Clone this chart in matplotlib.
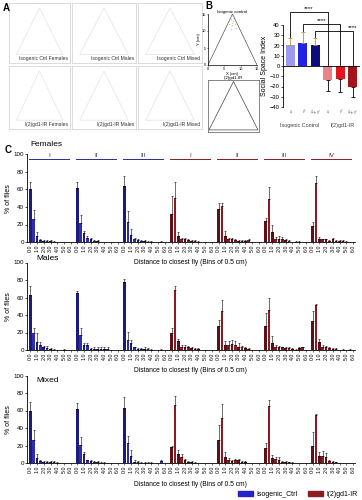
import matplotlib

matplotlib.use("Agg")
import matplotlib.pyplot as plt
import numpy as np
from matplotlib.patches import Patch, Polygon

plt.rcParams["font.family"] = ["Liberation Sans", "DejaVu Sans"]

W, H = 362, 500

# ---- panel B: social space index ----
ssi_labels = ["♀", "♂", "♀+♂", "♀", "♂", "♀+♂"]
ssi_groups = ["Isogenic Control", "l(2)gd1-IR"]
ssi_mean = [20, 22, 20, -14, -13, -20]
ssi_err = [7, 11, 7, 10, 12, 10]
ssi_pairs = [(0, 3), (1, 4), (2, 5)]
ssi_stars = ["****", "****", "****"]

# faint fly positions near the apex of the control arena
tri_x = [7.2, 7.8, 8.2, 6.9, 7.5, 8.5, 6.5, 7.0, 8.0]
tri_y = [12.5, 13.0, 12.0, 13.4, 11.8, 11.0, 12.2, 10.5, 13.8]

# ---- panel C: distance to closest fly ----
bin_labels = ["0.0", "0.5", "1.0", "1.5", "2.0", "2.5", "3.0",
              "3.5", "4.0", "4.5", "5.0", "5.5", "6.0"]
ctrl_headers = ["I", "II", "III"]
ir_headers = ["I", "II", "III", "IV"]

females_ctrl_mean = [
    [60, 26, 7, 2, 1, 1, 1, 0.5, 0, 0, 0, 0, 0],
    [62, 22, 10, 5, 3, 1, 1, 0, 0, 0, 0, 0, 0],
    [64, 23, 8, 3, 2, 1, 1, 0.5, 0.5, 0, 0, 0.5, 0],
]
females_ctrl_err = [
    [8, 11, 4, 1, 1, 1, 1, 0.5, 0, 0, 0, 0, 0],
    [7, 9, 3, 2, 1.5, 1, 1, 0, 0, 0, 0, 0, 0],
    [11, 12, 7, 2, 1, 1, 1, 0.5, 0.5, 0, 0, 1, 0],
]
females_ir_mean = [
    [32, 50, 7, 3, 3, 2, 1, 1, 0.5, 0, 0, 0, 0],
    [38, 41, 7, 3, 3, 2, 1, 1, 1, 2, 0, 0, 0],
    [24, 49, 12, 4, 4, 3, 2, 1, 0, 0.5, 0.5, 0, 0],
    [18, 67, 4, 3, 3, 1, 3, 1, 1, 1, 0.5, 0, 0],
]
females_ir_err = [
    [20, 18, 4, 2, 2, 1, 1, 1, 0.5, 0, 0, 0, 0],
    [6, 4, 6, 2, 2, 2, 1, 1, 1, 1, 0, 0, 0],
    [3, 14, 8, 2, 3, 3, 1, 1, 0, 0.5, 0.5, 0, 0],
    [5, 8, 2, 1, 1, 1, 2, 1, 1, 1, 0.5, 0, 0],
]

males_ctrl_mean = [
    [63, 19, 9.5, 6, 3, 2, 1, 0.5, 0, 0, 0.5, 0, 0],
    [65, 17, 6, 6, 1.5, 1.5, 1.5, 1.5, 1.5, 1.5, 0, 0, 0],
    [78, 12, 8, 3, 1, 1, 1.5, 1, 0.5, 0, 0, 0.5, 0],
]
males_ctrl_err = [
    [10, 6, 10, 3.5, 1.5, 3, 1, 0.5, 0, 0, 0.5, 0, 0],
    [3, 8, 2, 2, 1, 1.5, 1.5, 1.5, 1.5, 1.5, 0, 0, 0],
    [3, 9, 3, 1, 1, 1, 1.5, 1, 0.5, 0, 0, 1, 0],
]
males_ir_mean = [
    [19, 69, 10, 4, 4, 3, 2, 1, 1, 0, 0, 0, 0],
    [27, 45, 6, 6, 7, 6, 4, 3, 2, 1, 0, 0, 0],
    [28, 46, 8, 4, 3, 3, 2, 2, 1, 0.5, 2, 3, 0],
    [33, 51, 9.5, 4, 3, 2, 1, 1, 0, 0.5, 0, 0.5, 0],
]
males_ir_err = [
    [6, 4, 3, 2, 2, 2, 1, 1, 1, 0, 0, 0, 0],
    [7, 12, 4, 4, 4, 4, 4, 2, 1, 1, 0, 0, 0],
    [14, 13, 8, 2, 2, 1, 1, 1, 1, 0.5, 1, 1, 0],
    [12, 2, 3.5, 2, 2, 1, 1, 1, 0, 1, 0, 1, 0],
]

mixed_ctrl_mean = [
    [60, 26, 6, 2.5, 1.5, 1, 1.5, 1, 0.5, 0, 0, 0, 0],
    [62, 21, 10, 3, 2, 1, 1.5, 0.5, 0.5, 0, 0, 0, 0],
    [63, 23, 8, 1, 1, 0.5, 0.5, 0.5, 0.5, 0, 0, 2, 0],
]
mixed_ctrl_err = [
    [10, 12, 4, 1, 1, 1, 1, 1, 0.5, 0, 0, 0, 0],
    [7, 9, 3, 1, 2, 1, 1, 0.5, 0.5, 0, 0, 0, 0],
    [12, 8, 7, 2, 1, 0.5, 0.5, 0.5, 0.5, 0, 0, 1, 0],
]
mixed_ir_mean = [
    [18, 66, 10, 7, 3, 1, 1, 0.5, 0, 0, 0, 0, 0],
    [26, 52, 7, 4, 2, 3, 3, 1, 1, 0, 0, 0, 0],
    [17, 65, 6, 5, 4, 1, 1, 1, 0.5, 0, 0, 0, 0],
    [19, 55, 8, 8, 7, 2, 1, 1, 0, 0, 0, 0, 0],
]
mixed_ir_err = [
    [2, 11, 5, 3, 2, 1, 1, 0.5, 0, 0, 0, 0, 0],
    [18, 15, 6, 2, 1, 2, 2, 1, 1, 0, 0, 0, 0],
    [6, 7, 3, 2, 3, 1, 1, 0.5, 0.5, 0, 0, 0, 0],
    [16, 1, 5, 6, 5, 1, 1, 0.5, 0, 0, 0, 0, 0],
]

# ---- panel A: still frames ----
frame_labels = [
    "Isogenic Ctrl Females", "Isogenic Ctrl Males", "Isogenic Ctrl Mixed",
    "l(2)gd1-IR Females", "l(2)gd1-IR Males", "l(2)gd1-IR Mixed",
]

BLUE_BARS = ("#1b1b7d", "#2e2eaa")
RED_BARS = ("#5e1016", "#8c1b21")
BLUE_HEAD = "#2b2b9a"
RED_HEAD = "#8c1b21"
SSI_COLORS = ["#9a9aee", "#2323e6", "#0c0c7e", "#e88489", "#e3141c", "#a3141c"]
SSI_ECOLORS = ["#b8963c", "#b8963c", "#b8963c", "black", "black", "black"]
GROUP_SLOTS = 14
ARENA = [(0.12, 0.14), (0.5, 0.92), (0.88, 0.14)]


def rect(x0, y0, x1, y1):
    return [x0 / W, 1 - y1 / H, (x1 - x0) / W, (y1 - y0) / H]


def tidy(ax, lw=0.6):
    for side in ("top", "right"):
        ax.spines[side].set_visible(False)
    for side in ("left", "bottom"):
        ax.spines[side].set_linewidth(lw)


def draw_frames(fig):
    boxes = [(9, 3, 70, 63), (72, 3, 136, 63), (138, 3, 202, 63),
             (9, 66, 70, 129), (72, 66, 136, 129), (138, 66, 202, 129)]
    for (x0, y0, x1, y1), label in zip(boxes, frame_labels):
        ax = fig.add_axes(rect(x0, y0, x1, y1))
        ax.set_xticks([])
        ax.set_yticks([])
        for sp in ax.spines.values():
            sp.set_color("#d6d6d6")
            sp.set_linewidth(0.6)
        ax.add_patch(Polygon(ARENA, closed=True, fill=False,
                             edgecolor="#e2e2e2", linewidth=0.5))
        ax.text(0.97, 0.03, label, transform=ax.transAxes, ha="right",
                va="bottom", fontsize=3.6, color="#333333")


def draw_triangles(fig):
    ax = fig.add_axes(rect(208, 14, 257, 65))
    tidy(ax, 0.5)
    ax.plot([0, 7.5, 15], [0, 15, 0], color="#555555", linewidth=0.5)
    ax.scatter(tri_x, tri_y, s=0.6, color="#c9c45a", linewidths=0)
    ax.set_xlim(0, 15)
    ax.set_ylim(0, 15)
    ax.set_xticks([0, 5, 10, 15])
    ax.set_yticks([0, 5, 10, 15])
    ax.tick_params(labelsize=2.8, length=1, width=0.4, pad=0.5)
    ax.set_xlabel("X (cm)", fontsize=3, labelpad=0.5)
    ax.set_ylabel("Y (cm)", fontsize=3, labelpad=0.5)
    ax.set_title("Isogenic control", fontsize=3.2, pad=1)

    ax2 = fig.add_axes(rect(208, 80, 259, 132))
    ax2.set_xticks([])
    ax2.set_yticks([])
    for sp in ax2.spines.values():
        sp.set_linewidth(0.5)
        sp.set_color("#555555")
    ax2.add_patch(Polygon([(0.02, 0.04), (0.5, 0.97), (0.98, 0.04)], closed=True,
                          fill=False, edgecolor="#444444", linewidth=0.5))
    ax2.set_title("l(2)gd1-IR", fontsize=3.2, pad=1)


def draw_ssi(fig):
    ax = fig.add_axes(rect(283, 25, 360, 107))
    x = np.arange(len(ssi_mean))
    ax.bar(x, ssi_mean, width=0.72, color=SSI_COLORS, linewidth=0)
    for xi, m, e, ec in zip(x, ssi_mean, ssi_err, SSI_ECOLORS):
        yerr = [[0], [e]] if m > 0 else [[e], [0]]
        ax.errorbar([xi], [m], yerr=yerr, fmt="none", ecolor=ec,
                    elinewidth=0.6, capsize=1.6, capthick=0.6)
    ax.axhline(0, color="black", linewidth=0.6)
    ax.set_xlim(-0.6, 5.6)
    ax.set_ylim(-40, 40)
    ax.set_yticks(range(-40, 41, 10))
    ax.set_xticks(x)
    ax.set_xticklabels(ssi_labels, fontsize=4, color="#555555")
    ax.tick_params(axis="y", labelsize=4.2, length=1.5, width=0.5, pad=0.8)
    ax.tick_params(axis="x", length=0, pad=2)
    for side in ("top", "right", "bottom"):
        ax.spines[side].set_visible(False)
    ax.spines["left"].set_linewidth(0.6)
    ax.set_ylabel("Social Space Index", fontsize=5, labelpad=1)

    levels = [53, 41, 34]
    for (i, j), lvl, star in zip(ssi_pairs, levels, ssi_stars):
        left_end = ssi_mean[i] + ssi_err[i] + 1.5
        ax.plot([i, i, j, j], [left_end, lvl, lvl, 1], color="black",
                linewidth=0.6, clip_on=False)
        sx = (i + j) / 2 if j < 5 else j
        ax.text(sx, lvl + 0.8, star, ha="center", va="bottom", fontsize=4.5,
                clip_on=False)
    for xg, name in zip([0.7, 4.2], ssi_groups):
        ax.text(xg, -56, name, ha="center", va="top", fontsize=3.9,
                color="#444444")


def draw_row(fig, y_top, y_bot, ctrl_mean, ctrl_err, ir_mean, ir_err, headers):
    ax = fig.add_axes(rect(27, y_top, 355, y_bot))
    tidy(ax)
    groups = [(m, e, BLUE_BARS) for m, e in zip(ctrl_mean, ctrl_err)]
    groups += [(m, e, RED_BARS) for m, e in zip(ir_mean, ir_err)]
    idx = np.arange(len(bin_labels))
    ticks, labels = [], []
    for g, (mean, err, colors) in enumerate(groups):
        xs = idx + g * GROUP_SLOTS
        mean = np.asarray(mean, dtype=float)
        err = np.asarray(err, dtype=float)
        ax.bar(xs, mean, width=0.78, linewidth=0,
               color=[colors[i % 2] for i in idx])
        keep = err > 0
        ax.errorbar(xs[keep], mean[keep],
                    yerr=[np.zeros(keep.sum()), err[keep]], fmt="none",
                    ecolor="black", elinewidth=0.4, capsize=0.7, capthick=0.4)
        ticks.extend(xs[::2])
        labels.extend(bin_labels[::2])
    ax.set_xticks(ticks)
    ax.set_xticklabels(labels, rotation=90, fontsize=3.8)
    ax.set_xlim(-1.0, 96.6)
    ax.set_ylim(0, 100)
    ax.set_yticks(range(0, 101, 20))
    ax.tick_params(axis="y", labelsize=4.5, length=1.5, width=0.5, pad=0.8)
    ax.tick_params(axis="x", length=1.2, width=0.4, pad=0.6)
    ax.set_ylabel("% of flies", fontsize=5, labelpad=1)
    if headers:
        names = [(h, BLUE_HEAD) for h in ctrl_headers]
        names += [(h, RED_HEAD) for h in ir_headers]
        for g, (name, col) in enumerate(names):
            x0 = g * GROUP_SLOTS
            ax.plot([x0 - 0.5, x0 + 11.5], [95, 95], color=col, linewidth=0.7,
                    clip_on=False)
            ax.text(x0 + 5.5, 96.5, name, ha="center", va="bottom",
                    fontsize=4.5, color=col)
    return ax


fig = plt.figure(figsize=(W / 100, H / 100), dpi=100)
fig.patch.set_facecolor("white")

draw_frames(fig)
draw_triangles(fig)
draw_ssi(fig)

rows = [
    (154.5, 242, females_ctrl_mean, females_ctrl_err, females_ir_mean,
     females_ir_err, True, "Females", (30, 145), 262),
    (262.5, 350, males_ctrl_mean, males_ctrl_err, males_ir_mean,
     males_ir_err, False, "Males", (36, 259), 371),
    (375.5, 463, mixed_ctrl_mean, mixed_ctrl_err, mixed_ir_mean,
     mixed_ir_err, False, "Mixed", (36, 381), 484),
]
for top, bot, cm, ce, im, ie, head, title, (tx, ty), xl_y in rows:
    draw_row(fig, top, bot, cm, ce, im, ie, head)
    fig.text(tx / W, 1 - ty / H, title, fontsize=6, ha="left", va="center")
    fig.text(190 / W, 1 - xl_y / H, "Distance to closest fly (Bins of 0.5 cm)",
             fontsize=4.8, ha="center", va="center")

for letter, (lx, ly) in zip("ABC", [(3, 8), (205, 6), (5, 150)]):
    fig.text(lx / W, 1 - ly / H, letter, fontsize=7, fontweight="bold",
             ha="left", va="center")

handles = [Patch(color="#2424c8", label="Isogenic_Ctrl"),
           Patch(color="#8a1c22", label="l(2)gd1-IR")]
fig.legend(handles=handles, loc="center", bbox_to_anchor=(298 / W, 1 - 494 / H),
           ncol=2, frameon=False, fontsize=5, handlelength=2.2,
           handleheight=0.7, columnspacing=1.5, handletextpad=0.5)

fig.savefig("out.png", dpi=100, facecolor="white")
